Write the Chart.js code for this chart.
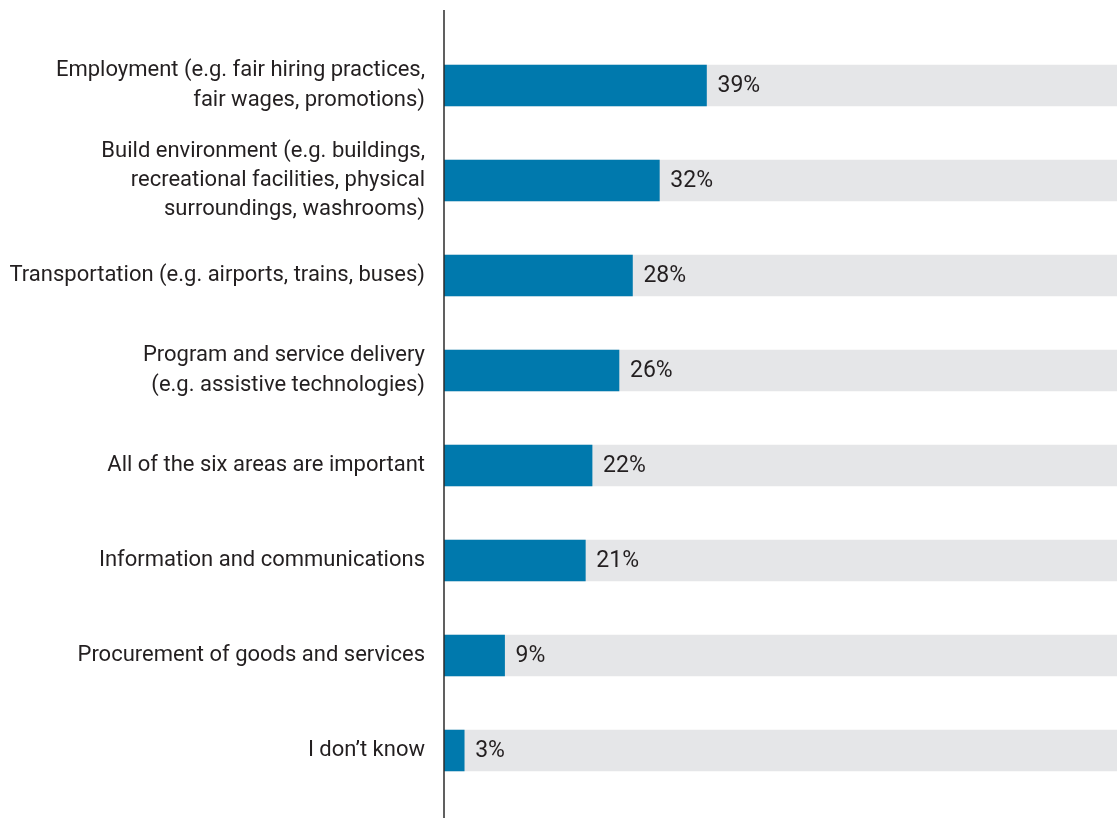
<!DOCTYPE html>
<html><head><meta charset="UTF-8">
<title>Areas of importance</title>
<script src="https://cdn.jsdelivr.net/npm/chart.js"></script>
<style>
  html, body { margin: 0; padding: 0; background: #ffffff; }
  #wrap { width: 1117px; height: 818px; }
</style></head><body>
<div id="wrap"><canvas id="chart"></canvas></div>
<script>
const categories = [
  ['Employment (e.g. fair hiring practices,', 'fair wages, promotions)'],
  ['Build environment (e.g. buildings,', 'recreational facilities, physical', 'surroundings, washrooms)'],
  'Transportation (e.g. airports, trains, buses)',
  ['Program and service delivery', '(e.g. assistive technologies)'],
  'All of the six areas are important',
  'Information and communications',
  'Procurement of goods and services',
  'I don\u2019t know'
];
const shares = [39, 32, 28, 26, 22, 21, 9, 3];
const track = [100, 100, 100, 100, 100, 100, 100, 100];

const fontFamily = "'Liberation Sans Narrow', 'Roboto', sans-serif";

// vertical axis line (runs past the bars) + value labels
const extras = {
  id: 'extras',
  afterDatasetsDraw(chart) {
    const ctx = chart.ctx;
    const area = chart.chartArea;
    ctx.save();
    ctx.strokeStyle = '#2b2b2b';
    ctx.lineWidth = 1.5;
    ctx.beginPath();
    ctx.moveTo(area.left, 10);
    ctx.lineTo(area.left, 818);
    ctx.stroke();

    ctx.fillStyle = '#231f20';
    ctx.font = '23px ' + fontFamily;
    ctx.textBaseline = 'middle';
    chart.getDatasetMeta(0).data.forEach((bar, i) => {
      ctx.fillText(shares[i] + '%', bar.x + 11, bar.y + 1);
    });
    ctx.restore();
  }
};

new Chart(document.getElementById('chart'), {
  type: 'bar',
  data: {
    labels: categories,
    datasets: [
      { label: 'Share', data: shares, backgroundColor: '#0079ad', barThickness: 41 },
      { label: 'Track', data: track, backgroundColor: '#e5e6e8', barThickness: 41 }
    ]
  },
  options: {
    indexAxis: 'y',
    responsive: true,
    maintainAspectRatio: false,
    animation: false,
    grouped: false,
    layout: { padding: { top: 38, bottom: 20, left: 0, right: 0 } },
    plugins: { legend: { display: false }, tooltip: { enabled: false } },
    scales: {
      x: { min: 0, max: 100, display: false },
      y: {
        grid: { display: false, drawTicks: false },
        border: { display: false },
        afterFit(scale) {
          scale.width = 444;
          scale.paddingTop = 0;
          scale.paddingBottom = 0;
        },
        ticks: {
          color: '#231f20',
          padding: 19,
          font: { family: fontFamily, size: 22, lineHeight: 1.32 }
        }
      }
    }
  },
  plugins: [extras]
});
</script>
</body></html>
